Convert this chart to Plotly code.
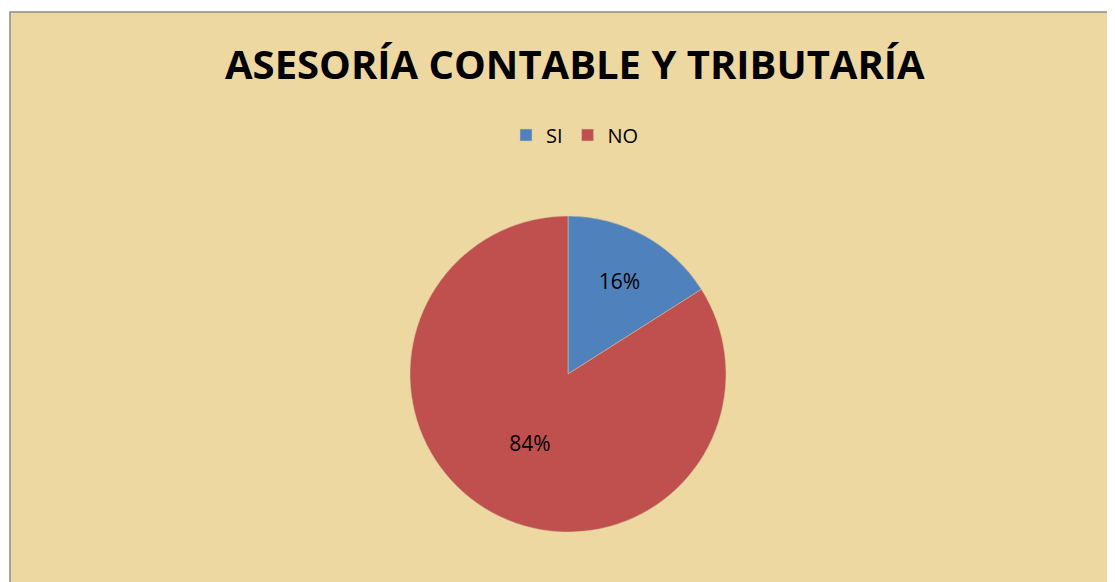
import plotly.graph_objects as go

# Data
categories = ["SI", "NO"]
values = [16, 84]
colors = ["#4F81BD", "#C0504D"]
title_text = "ASESORÍA CONTABLE Y TRIBUTARÍA"

OFF = 8  # default page body margin
W, H = 1115 - OFF, 582 - OFF

def px_x(x):
    return (x - OFF) / W

def px_y(y):
    return 1 - (y - OFF) / H

fig = go.Figure()
fig.add_trace(go.Pie(
    labels=categories,
    values=values,
    marker=dict(colors=colors, line=dict(color="#D9C9A0", width=0.5)),
    sort=False,
    direction="clockwise",
    rotation=0,
    texttemplate="%{percent:.0%}",
    textposition="inside",
    insidetextorientation="horizontal",
    textfont=dict(family="Open Sans, Liberation Sans, sans-serif", size=21, color="black"),
    domain=dict(x=[px_x(410), px_x(726)], y=[px_y(532), px_y(216)]),
    hoverinfo="label+percent",
))

fig.update_layout(
    width=W, height=H,
    margin=dict(l=0, r=0, t=0, b=0),
    paper_bgcolor="white",
    plot_bgcolor="white",
    showlegend=True,
    legend=dict(
        orientation="h",
        x=px_x(575), xanchor="center",
        y=px_y(135), yanchor="middle",
        font=dict(family="Open Sans, Liberation Sans, sans-serif", size=20, color="black"),
        bgcolor="rgba(0,0,0,0)",
        traceorder="normal",
    ),
    shapes=[dict(
        type="rect", xref="paper", yref="paper",
        x0=px_x(10), x1=1.01, y0=-0.01, y1=px_y(12),
        fillcolor="#EDD8A2", line=dict(color="#8C8C8C", width=1.5),
        layer="below",
    )],
    annotations=[dict(
        text="<b>" + title_text + "</b>",
        x=px_x(575), y=px_y(64), xref="paper", yref="paper",
        xanchor="center", yanchor="middle", showarrow=False,
        font=dict(family="Open Sans, Liberation Sans, sans-serif", size=40, color="black"),
    )],
)

fig.write_html("out.html")
